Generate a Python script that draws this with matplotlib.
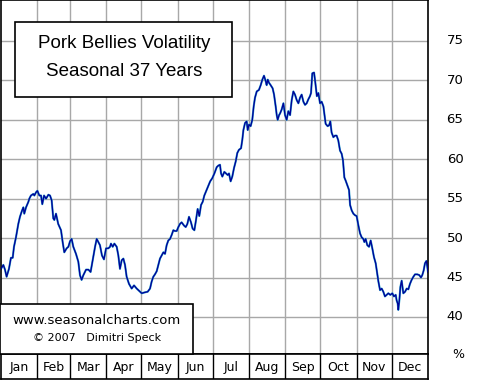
import matplotlib
matplotlib.use('Agg')
import matplotlib.pyplot as plt
from matplotlib.patches import Rectangle

# day of year and seasonal volatility (%)
days = [0.0, 2.0, 3.4, 4.8, 6.8, 8.5, 10.0, 11.1, 12.8, 14.8, 16.2, 18.0, 19.1, 19.9, 21.4,
        23.4, 24.2, 25.6, 27.6, 28.5, 29.9, 31.1, 32.8, 34.2, 35.3, 36.8, 38.5, 40.5, 41.9,
        43.3, 44.7, 45.6, 47.0, 48.9, 51.3, 52.7, 54.1, 56.1, 57.6, 59.0, 60.4, 61.8, 64.1,
        66.1, 67.5, 68.9, 70.4, 72.7, 74.7, 76.6, 78.4, 80.4, 81.8, 83.2, 84.6, 86.3, 88.0,
        89.8, 91.7, 93.2, 94.0, 95.5, 96.9, 98.9, 100.3, 101.7, 103.2, 104.6, 106.0, 107.4,
        109.4, 111.7, 113.7, 116.0, 118.2, 120.3, 122.5, 125.4, 127.4, 128.8, 130.2, 131.6,
        133.1, 134.5, 135.9, 137.3, 138.8, 140.2, 141.6, 143.0, 144.5, 145.9, 147.3, 148.7,
        150.2, 151.6, 153.0, 154.4, 156.4, 157.9, 159.3, 160.7, 162.4, 163.8, 165.3, 166.7,
        168.1, 169.5, 171.0, 172.4, 173.8, 178.8, 180.6, 182.4, 184.4, 185.8, 187.2, 188.1,
        189.2, 190.9, 192.3, 193.8, 194.9, 196.3, 197.7, 199.2, 200.6, 202.0, 203.4, 205.2,
        206.3, 207.2, 208.6, 210.0, 210.9, 212.0, 213.4, 214.8, 216.0, 217.1, 218.6, 220.5,
        222.0, 223.4, 224.8, 226.3, 227.1, 228.0, 229.1, 230.5, 232.2, 233.4, 234.8, 235.7,
        236.5, 237.7, 238.5, 239.9, 241.4, 242.8, 244.2, 245.6, 247.1, 248.5, 249.9, 251.3,
        252.8, 254.2, 255.6, 257.0, 258.5, 259.9, 261.3, 262.7, 264.1, 265.0, 266.1, 267.6,
        268.7, 270.0, 271.3, 272.7, 274.1, 275.6, 277.5, 279.2, 280.4, 281.5, 282.6, 284.1,
        285.5, 286.9, 288.3, 289.8, 291.2, 292.3, 293.5, 294.6, 296.1, 297.5, 298.4, 299.8,
        301.2, 302.6, 304.0, 305.5, 306.9, 308.3, 309.7, 310.6, 311.7, 313.1, 314.6, 316.0,
        317.4, 318.8, 320.3, 321.4, 322.6, 324.0, 325.4, 326.8, 328.2, 329.7, 331.1, 332.8,
        334.5, 335.9, 337.4, 338.2, 339.1, 339.6, 340.5, 341.4, 342.5, 343.9, 345.4, 346.8,
        348.2, 349.6, 351.0, 352.5, 353.9, 355.9, 357.6, 359.0, 360.1, 361.3, 362.4, 363.6,
        364.4, 365.0]
vol = [46.1, 46.6, 46.0, 45.1, 46.1, 47.5, 47.5, 48.9, 50.1, 51.8, 52.7, 53.5, 53.9, 53.1, 53.9,
       54.6, 55.0, 55.4, 55.6, 55.4, 55.8, 56.0, 55.4, 55.4, 54.3, 55.4, 55.0, 55.5, 55.4,
       54.8, 52.5, 52.3, 53.1, 51.8, 51.0, 49.5, 48.2, 48.7, 48.9, 49.6, 49.9, 48.9, 48.0,
       47.0, 45.3, 44.7, 45.3, 46.0, 46.0, 45.7, 47.2, 48.9, 49.9, 49.5, 49.1, 47.8, 47.3,
       48.7, 48.7, 48.9, 49.3, 48.9, 49.3, 48.9, 47.8, 46.1, 47.2, 47.4, 46.6, 45.1,
       44.2, 43.6, 44.0, 43.6, 43.3, 43.0, 43.1, 43.2, 43.6, 44.5, 45.1, 45.4,
       45.8, 46.6, 47.4, 47.8, 48.2, 48.0, 49.1, 49.7, 49.9, 50.4, 51.0, 50.9,
       50.9, 51.4, 51.8, 52.0, 51.6, 51.4, 51.8, 52.7, 52.0, 51.2, 51.0, 52.3,
       53.7, 52.8, 54.2, 54.6, 55.4, 57.2, 57.6, 58.2, 59.0, 59.2, 59.3, 58.2,
       57.8, 58.4, 58.2, 58.0, 58.2, 57.2, 57.8, 58.9, 59.7, 60.8, 61.2, 61.4,
       62.5, 63.7, 64.6, 64.8, 63.7, 64.4, 64.2, 65.0, 66.7, 67.8, 68.6, 68.8,
       69.4, 70.1, 70.6, 69.9, 69.4, 70.1, 69.7, 69.4, 69.0, 68.2, 66.7, 65.6,
       65.0, 65.6, 65.8, 66.3, 67.1, 65.6, 65.0, 66.1, 65.6, 67.5, 68.6, 68.2,
       67.5, 67.1, 67.8, 68.2, 67.3, 66.9, 67.1, 67.6, 68.0, 68.4, 70.9, 71.0,
       69.7, 68.0, 68.4, 67.1, 67.3, 66.7, 64.5, 64.2, 64.3, 64.8, 63.4, 62.8,
       63.0, 63.0, 62.4, 61.1, 60.7, 59.9, 57.7, 57.3, 56.7, 56.1, 54.2, 53.5,
       53.1, 52.9, 52.8, 51.6, 50.6, 50.1, 49.9, 49.5, 49.9, 49.1, 48.9, 49.7,
       48.7, 47.6, 46.8, 45.7, 44.5, 43.4, 43.6, 43.2, 42.6, 42.8, 43.0, 42.8,
       43.0, 42.6, 42.8, 42.1, 41.7, 40.9, 42.1, 43.8, 44.6, 43.0, 43.2, 43.6,
       43.5, 44.2, 44.7, 45.1, 45.4, 45.4, 45.3, 45.0, 45.3, 45.9, 46.8, 47.1,
       46.4, 45.7]

months = ['Jan', 'Feb', 'Mar', 'Apr', 'May', 'Jun', 'Jul', 'Aug', 'Sep', 'Oct', 'Nov', 'Dec']
month_starts = [0, 31, 59, 90, 120, 151, 181, 212, 243, 273, 304, 334, 365]
yticks = [40, 45, 50, 55, 60, 65, 70, 75]

W, H = 480, 380
fig = plt.figure(figsize=(W / 100, H / 100), dpi=100)
fig.patch.set_facecolor('white')

def box(x0, y0, x1, y1):
    # pixel box (top-left origin) -> figure fraction rect
    return [x0 / W, 1 - y1 / H, (x1 - x0) / W, (y1 - y0) / H]

ax = fig.add_axes(box(1, 0, 428, 354))
ax.set_xlim(0, 365)
ax.set_ylim(35.3, 80.2)
for d in month_starts[1:-1]:
    ax.axvline(d, color='#a8a8a8', lw=1, zorder=1)
for v in yticks:
    ax.axhline(v, color='#a8a8a8', lw=1, zorder=1)
ax.plot(days, vol, color='#30a8d0', lw=1.5, zorder=2)
ax.plot(days, vol, color='#000098', lw=0.95, zorder=3)
ax.set_xticks([])
ax.set_yticks([])
for s in ax.spines.values():
    s.set_color('black')
    s.set_linewidth(1.2)

# right side value labels
for v in yticks:
    y = ax.transData.transform((0, v))[1]
    fig.text(455 / W, y / fig.dpi / fig.get_figheight(), str(v), ha='center', va='center',
             fontsize=9.5, color='black')
fig.text(458 / W, 1 - 355 / H, '%', ha='center', va='center', fontsize=9, color='black')

# month strip
axm = fig.add_axes(box(1, 354, 428, 379))
axm.set_xlim(0, 365)
axm.set_ylim(0, 1)
for d in month_starts[1:-1]:
    axm.axvline(d, color='black', lw=1)
for i, m in enumerate(months):
    axm.text((month_starts[i] + month_starts[i + 1]) / 2, 0.45, m, ha='center', va='center',
             fontsize=9)
axm.set_xticks([])
axm.set_yticks([])
for s in axm.spines.values():
    s.set_color('black')
    s.set_linewidth(1.2)

# title box
tb = box(15, 22, 232, 97)
fig.patches.append(Rectangle((tb[0], tb[1]), tb[2], tb[3], transform=fig.transFigure,
                             facecolor='white', edgecolor='black', lw=1.2, zorder=5))
fig.text(124 / W, 1 - 43 / H, 'Pork Bellies Volatility', ha='center', va='center',
         fontsize=13.5, family='Liberation Sans', zorder=6)
fig.text(124 / W, 1 - 71 / H, 'Seasonal 37 Years', ha='center', va='center',
         fontsize=13.5, family='Liberation Sans', zorder=6)

# credit box
cb = box(0, 304, 193, 354)
fig.patches.append(Rectangle((cb[0], cb[1]), cb[2], cb[3], transform=fig.transFigure,
                             facecolor='white', edgecolor='black', lw=1.2, zorder=5))
fig.text(97 / W, 1 - 320 / H, 'www.seasonalcharts.com', ha='center', va='center',
         fontsize=9.5, zorder=6)
fig.text(97 / W, 1 - 338 / H, '\u00a9 2007   Dimitri Speck', ha='center', va='center',
         fontsize=8, zorder=6)

fig.savefig('out.png', dpi=100)
